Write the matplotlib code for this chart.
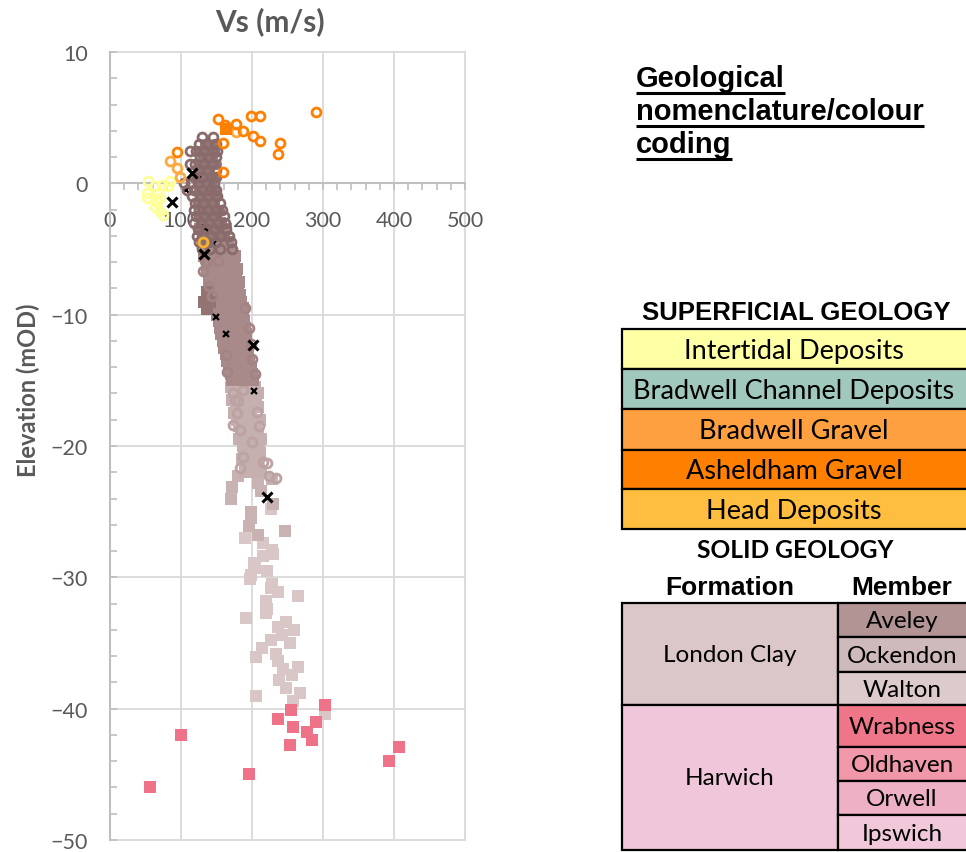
import numpy as np
import matplotlib
matplotlib.use("Agg")
import matplotlib.pyplot as plt
from matplotlib.patches import Rectangle
from matplotlib.ticker import MultipleLocator

# ---- shear-wave velocity profiles: (Vs m/s, elevation mOD) ----
intertidal = [(54, 0.15), (63, -0.2), (52, -0.7), (52, -1.1), (68, -0.7), (70, -1.1),
              (66, -1.4), (63, -1.8), (70, -2.1), (85, 0.15), (82, -0.2), (73, -0.1), (74, -2.4)]
bradwell_gravel = [(85, 1.7), (95, 1.2), (98, 0.5), (178, 3.9)]
head = [(131, -4.5)]
asheldham = [(152, 4.9), (162, 4.45), (177, 4.5), (188, 4.0), (199, 5.1), (211, 5.1),
             (201, 3.6), (211, 3.2), (239, 3.1), (237, 2.2), (290, 5.4), (159, 3.1),
             (159, 0.9), (94, 2.4)]
asheldham_scpt = [(164, 4.1)]

# Aveley member: rows of {elevation: [Vs, ...]}
aveley_rings = {3.5: [130, 145], 3.0: [126, 137, 149], 2.5: [113, 121, 133, 145, 151],
                2.0: [127, 139, 150], 1.5: [113, 120, 132, 144], 1.0: [125, 137, 149],
                0.5: [119, 130, 142, 150], 0.0: [104, 114, 124, 136, 147],
                -0.5: [108, 119, 130, 141, 150], -1.0: [116, 127, 138, 151],
                -1.5: [120, 132, 144, 155], -2.0: [118, 126, 138, 150, 158],
                -2.5: [121, 133, 145, 160], -3.0: [119, 128, 140, 152, 162],
                -3.5: [124, 135, 147, 164], -4.0: [122, 130, 142, 155, 167],
                -4.5: [126, 137, 150, 170], -5.0: [129, 141, 155, 172]}
aveley_core = {3.0: [134, 146], 2.5: [125, 136, 147], 2.0: [131, 143], 1.5: [125, 137, 149],
               1.0: [128, 140], 0.5: [123, 134, 146], 0.0: [130, 142], -0.5: [125, 137, 147],
               -1.0: [127, 139, 150], -1.5: [124, 135, 147], -2.0: [129, 141, 154],
               -2.5: [126, 137, 149], -3.0: [131, 144, 157], -3.5: [128, 140, 153],
               -4.0: [134, 147, 160]}
aveley_sq = {-3.0: [131, 143, 155], -3.5: [127, 139, 151, 163], -4.0: [133, 145, 158],
             -4.5: [131, 142, 154, 166], -5.0: [135, 147, 160, 170],
             -5.5: [133, 144, 156, 168, 176], -6.0: [138, 150, 162, 174],
             -6.5: [136, 147, 159, 171, 179], -7.0: [140, 152, 165, 177],
             -7.5: [139, 150, 162, 174, 181], -8.0: [144, 156, 168, 180],
             -8.5: [147, 158, 170, 183], -9.0: [149, 161, 173, 185],
             -9.5: [148, 160, 172, 184, 188], -10.0: [151, 163, 176, 187],
             -10.5: [153, 165, 178, 189], -11.0: [155, 167, 180, 190],
             -11.5: [157, 169, 181, 191], -12.0: [159, 171, 183, 192],
             -12.5: [161, 172, 184, 193], -13.0: [163, 175, 186, 194],
             -13.5: [165, 177, 188, 196], -14.0: [167, 179, 190, 198],
             -14.5: [170, 182, 193, 200], -15.0: [172, 184, 195, 202]}
aveley_dark_sq = [(137, -8.3), (133, -9.0), (141, -9.0), (137, -9.6)]
aveley_mid_rings = [(134, -5.9), (131, -6.7), (136, -6.0), (152, -5.9), (190, -9.5),
                    (163, -13.1), (165, -14.4), (204, -14.5), (196, -11.0), (198, -12.2),
                    (200, -13.4), (140, -7.8), (143, -8.6)]

# Ockendon member
ockendon_rings = [(166, -14.4), (173, -16.0), (176, -16.5), (180, -16.6), (187, -15.7),
                  (207, -17.4), (179, -17.5), (173, -18.4), (183, -18.8), (210, -18.5),
                  (200, -19.7), (187, -20.8), (215, -21.2), (183, -21.7), (221, -21.3),
                  (224, -22.3), (234, -22.4)]
ockendon_sq = {-15.5: [170, 181, 193, 204], -16.0: [174, 186, 197, 208],
               -16.5: [172, 184, 195, 206], -17.0: [177, 189, 200, 209],
               -17.5: [175, 186, 198], -18.0: [179, 191, 203, 211],
               -18.5: [181, 193, 205], -19.0: [184, 196, 208],
               -19.5: [182, 194, 206, 212], -20.0: [187, 199, 210],
               -20.5: [189, 201, 211], -21.0: [186, 198, 209],
               -21.5: [191, 203], -22.0: [190, 202, 212]}
ockendon_deep = [(180, -22.3), (172, -23.1), (208, -22.8), (228, -22.5), (170, -24.0),
                 (212, -23.4), (229, -24.4), (198, -25.0), (199, -25.5), (196, -26.1),
                 (246, -26.5), (208, -26.8)]

# Walton member
walton_sq = [(227, -24.8), (190, -27.0), (215, -27.4), (228, -27.9), (229, -28.2),
             (215, -28.4), (203, -28.9), (204, -29.3), (199, -29.8), (197, -30.1),
             (221, -29.5), (228, -30.5), (227, -30.8), (237, -31.1), (265, -31.4),
             (220, -31.8), (221, -32.4), (220, -32.7), (192, -33.1), (237, -33.8),
             (248, -33.4), (259, -34.0), (242, -34.4), (227, -34.8), (254, -35.0),
             (214, -35.4), (206, -36.1), (234, -35.8), (237, -36.4), (244, -37.0),
             (265, -36.8), (256, -37.4), (238, -37.8), (248, -38.4), (268, -38.8),
             (206, -39.0), (258, -39.4), (303, -40.4)]

# Wrabness member (Harwich Formation)
wrabness_sq = [(303, -39.7), (255, -40.1), (237, -40.8), (290, -41.0), (258, -41.4),
               (277, -41.8), (284, -42.4), (254, -42.8), (100, -42.0), (407, -42.9),
               (393, -44.0), (196, -45.0), (56, -46.0)]

# borehole downhole measurements
downhole = [(87, -1.4), (116, 0.8), (132, -5.4), (201, -12.3), (221, -23.9)]
downhole_hidden = [(124, 0.3), (107, -0.5), (145, -4.6), (134, -3.4), (150, -10.2),
                   (163, -11.5), (203, -15.8)]

# legend tables
superficial_units = ["Intertidal Deposits", "Bradwell Channel Deposits", "Bradwell Gravel",
                     "Asheldham Gravel", "Head Deposits"]
superficial_colours = ["#ffffa6", "#a0c8bc", "#ffa040", "#ff7f00", "#ffbe40"]
formations = ["London Clay", "Harwich"]
formation_colours = ["#dcc7c8", "#f0c6da"]
members = ["Aveley", "Ockendon", "Walton", "Wrabness", "Oldhaven", "Orwell", "Ipswich"]
member_colours = ["#b39494", "#cebaba", "#ddcaca", "#ef7588", "#f097aa", "#edb0c4", "#f0c8da"]


def pts(p):
    a = np.array(p, dtype=float)
    return a[:, 0], a[:, 1]


def rows(d):
    vs, z = [], []
    for elev, vals in d.items():
        for v in vals:
            vs.append(v)
            z.append(elev)
    return np.array(vs), np.array(z)


CAL = "Lato"
ARIAL = "Liberation Sans"
GREY = "#595959"

fig = plt.figure(figsize=(9.66, 8.53), dpi=100)
ax = fig.add_axes([110 / 966, 12 / 853, 355 / 966, 788 / 853])
ax.set_xlim(0, 500)
ax.set_ylim(-50, 10)

ring = dict(ls="none", marker="o", ms=6.4, mfc="none", mew=2.0)
square = dict(ls="none", marker="s", ms=8.2, mew=0)

ax.plot(*pts(walton_sq), color="#d9c6c6", zorder=3, **square)
ax.plot(*pts(ockendon_deep), color="#c8b2b2", zorder=3.1, **square)
ax.plot(*rows(ockendon_sq), color="#c6afaf", zorder=3.2, **square)
ax.plot(*pts(ockendon_rings), color="#bca2a2", zorder=3.3, **ring)
ax.plot(*rows(aveley_sq), color="#a98a8a", zorder=3.4, **square)
ax.plot(*pts(aveley_dark_sq), color="#947373", zorder=3.5, **square)
ax.plot(*pts(aveley_mid_rings), color="#a38383", zorder=3.6, **ring)
ax.plot(*rows(aveley_core), ls="none", marker="o", ms=8, mew=0, color="#957676", zorder=3.7)
ax.plot(*pts(downhole_hidden), ls="none", marker="x", ms=4.5, mew=1.6, color="black", zorder=3.75)
ax.plot(*rows(aveley_rings), color="#8a6b6b", zorder=3.8, **ring)
ax.plot(*pts(wrabness_sq), color="#ef7388", zorder=4, **square)
ax.plot(*pts(intertidal), color="#ffff9a", zorder=4, **ring)
ax.plot(*pts(bradwell_gravel), color="#ffa940", zorder=4.1, **ring)
ax.plot(*pts(head), color="#f8b030", zorder=4.1, **ring)
ax.plot(*pts(asheldham), color="#ff8000", zorder=4.2, **ring)
ax.plot(*pts(asheldham_scpt), color="#ff8000", zorder=4.2, **square)
ax.plot(*pts(downhole), ls="none", marker="x", ms=6.5, mew=2.2, color="black", zorder=5)

# axes styling
for side in ("top", "right"):
    ax.spines[side].set_visible(False)
ax.spines["bottom"].set_position(("data", 0))
for side in ("left", "bottom"):
    ax.spines[side].set_color("#bfbfbf")
    ax.spines[side].set_linewidth(1.5)
ax.xaxis.set_major_locator(MultipleLocator(100))
ax.xaxis.set_minor_locator(MultipleLocator(20))
ax.yaxis.set_major_locator(MultipleLocator(10))
ax.yaxis.set_minor_locator(MultipleLocator(2))
ax.grid(True, which="major", color="#d9d9d9", lw=1.3)
for gl in ax.get_xgridlines() + ax.get_ygridlines():
    gl.set_clip_on(False)
ax.set_axisbelow(True)
ax.tick_params(axis="x", which="both", direction="out", length=5, width=1.2,
               color="#bfbfbf", labelsize=15.5, labelcolor=GREY, pad=14)
ax.tick_params(axis="y", which="both", direction="in", length=5, width=1.2,
               color="#bfbfbf", labelsize=15.5, labelcolor=GREY, pad=16)
for lab in ax.get_xticklabels() + ax.get_yticklabels():
    lab.set_family(CAL)

fig.text(270 / 966, 1 - 22 / 853, "Vs (m/s)", ha="center", va="center",
         fontsize=21.5, fontweight="bold", color=GREY, family=CAL)
fig.text(28 / 966, 1 - 390 / 853, "Elevation (mOD)", ha="center", va="center",
         rotation=90, fontsize=17, fontweight="bold", color=GREY, family=CAL)

# ---- colour coding legend (pixel coordinates) ----
lax = fig.add_axes([0, 0, 1, 1])
lax.set_xlim(0, 966)
lax.set_ylim(853, 0)
lax.axis("off")

title_lines = ["Geological", "nomenclature/colour", "coding"]
title_base = [87, 120, 153]
title_texts = []
for line, yb in zip(title_lines, title_base):
    t = lax.text(636, yb, line, ha="left", va="baseline", fontsize=21,
                 fontweight="bold", family=ARIAL, color="black")
    title_texts.append((t, yb))

lax.text(796, 313, "SUPERFICIAL GEOLOGY", ha="center", va="center", fontsize=18.5,
         fontweight="bold", family=ARIAL)
sup_edges = [330, 370, 410, 451, 490, 530]
for i, (name, col) in enumerate(zip(superficial_units, superficial_colours)):
    y0, y1 = sup_edges[i], sup_edges[i + 1]
    lax.add_patch(Rectangle((622, y0), 346, y1 - y0, facecolor=col, edgecolor="black",
                            lw=1.6, clip_on=False))
    lax.text(794, (y0 + y1) / 2 + 1, name, ha="center", va="center", fontsize=19.5,
             family=CAL)

lax.text(795, 550, "SOLID GEOLOGY", ha="center", va="center", fontsize=17.7,
         fontweight="bold", family=CAL)
lax.text(730, 588, "Formation", ha="center", va="center", fontsize=19,
         fontweight="bold", family=ARIAL)
lax.text(902, 588, "Member", ha="center", va="center", fontsize=19,
         fontweight="bold", family=ARIAL)

form_edges = [604, 706, 851]
for i, (name, col) in enumerate(zip(formations, formation_colours)):
    y0, y1 = form_edges[i], form_edges[i + 1]
    lax.add_patch(Rectangle((622, y0), 216, y1 - y0, facecolor=col, edgecolor="black",
                            lw=1.6))
    lax.text(730, (y0 + y1) / 2, name, ha="center", va="center", fontsize=17.5, family=CAL)

mem_edges = [604, 638, 673, 706, 748, 782, 816, 851]
for i, (name, col) in enumerate(zip(members, member_colours)):
    y0, y1 = mem_edges[i], mem_edges[i + 1]
    lax.add_patch(Rectangle((838, y0), 130, y1 - y0, facecolor=col, edgecolor="black",
                            lw=1.6, clip_on=False))
    lax.text(902, (y0 + y1) / 2 + 1, name, ha="center", va="center", fontsize=17.5,
             family=CAL)

# underline the heading lines
fig.canvas.draw()
inv = lax.transData.inverted()
for t, yb in title_texts:
    bb = t.get_window_extent()
    x0 = inv.transform((bb.x0, bb.y0))[0]
    x1 = inv.transform((bb.x1, bb.y0))[0]
    lax.plot([x0, x1], [yb + 7, yb + 7], color="black", lw=2.2, solid_capstyle="butt")

fig.savefig("out.png", dpi=100)
